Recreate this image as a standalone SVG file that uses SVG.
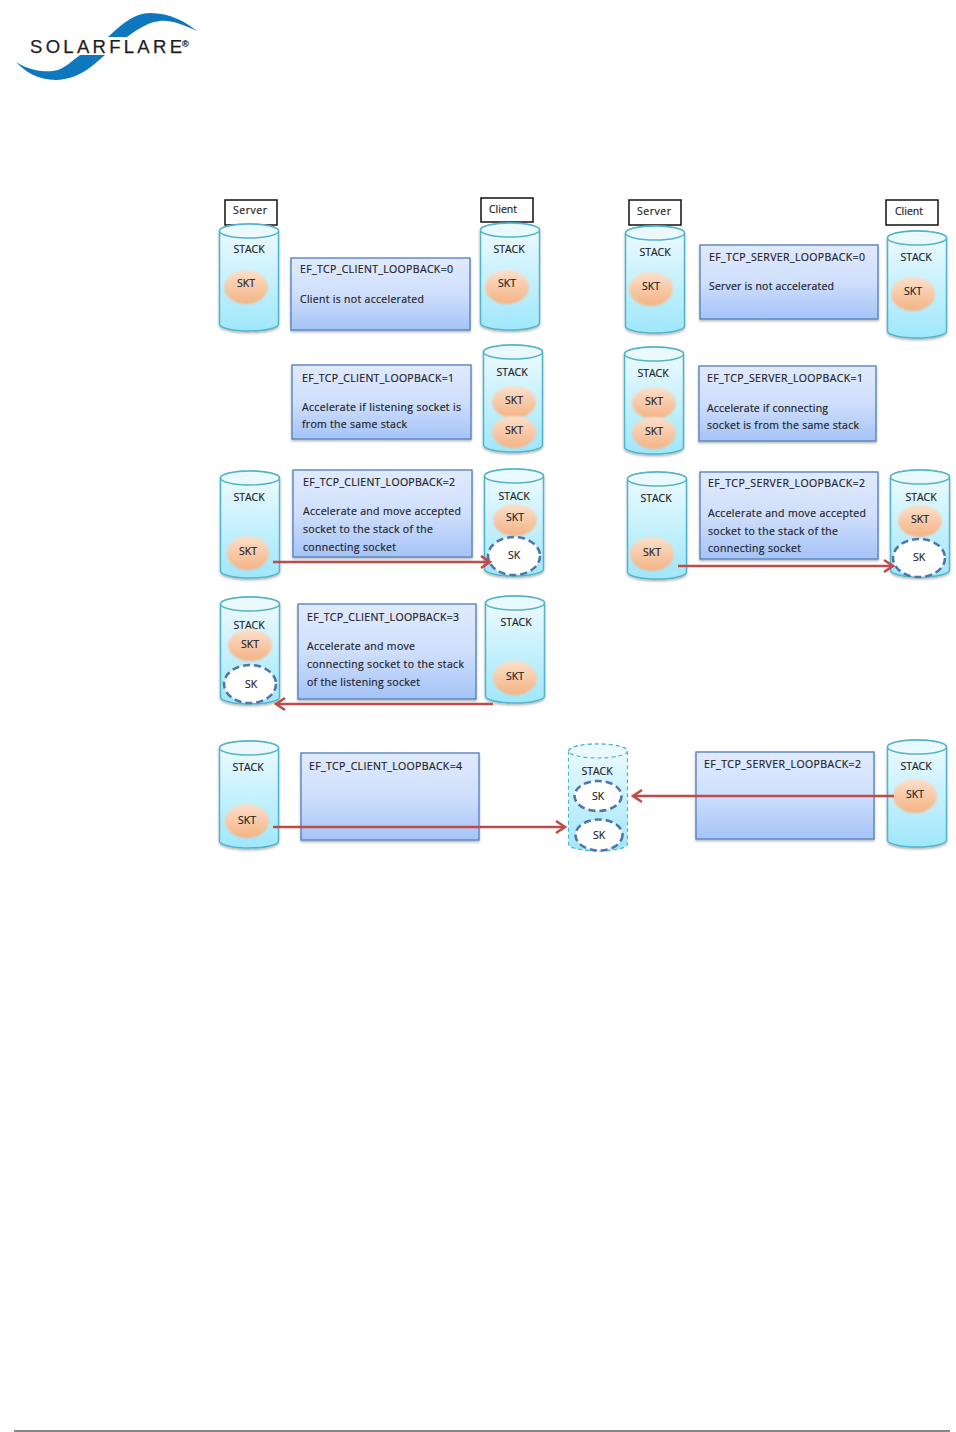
<svg xmlns="http://www.w3.org/2000/svg" width="956" height="1432" viewBox="0 0 956 1432">
<style>
text{font-family:"Open Sans","Liberation Sans",sans-serif;font-size:10.5px;fill:#1f2429;stroke:#1f2429;stroke-width:0.2;}
.c{text-anchor:middle}
.box{fill:url(#bg);stroke:#5b85bd;stroke-width:1.4;filter:url(#sh)}
.lab{fill:#fff;stroke:#111;stroke-width:1.5}
.skt{fill:url(#og);filter:url(#soft)}
.sk{fill:#fff;stroke:#4f75ad;stroke-width:2.6;stroke-dasharray:7 4}
.arr{fill:none;stroke:#bd4b48;stroke-width:2.6;marker-end:url(#ah)}
.logot{font-family:"Liberation Sans",sans-serif;fill:#1e1e22;stroke:#1e1e22;stroke-width:0.25}
</style>
<defs>
<linearGradient id="bg" x1="0" y1="0" x2="0" y2="1"><stop offset="0" stop-color="#e0eafd"/><stop offset="0.5" stop-color="#cfdffc"/><stop offset="1" stop-color="#a5c3f7"/></linearGradient>
<linearGradient id="cg" x1="0" y1="0" x2="0" y2="1"><stop offset="0" stop-color="#f0fbfe"/><stop offset="1" stop-color="#9fe7fb"/></linearGradient>
<linearGradient id="og" x1="0" y1="0" x2="0" y2="1"><stop offset="0" stop-color="#fbe0cb"/><stop offset="1" stop-color="#f5b384"/></linearGradient>
<filter id="sh" x="-5%" y="-5%" width="110%" height="115%"><feDropShadow dx="0" dy="1.5" stdDeviation="1" flood-color="#000" flood-opacity="0.3"/></filter>
<filter id="soft" x="-15%" y="-15%" width="130%" height="130%"><feGaussianBlur stdDeviation="0.8"/></filter>
<marker id="ah" markerUnits="userSpaceOnUse" markerWidth="16" markerHeight="16" refX="12" refY="8" orient="auto"><path d="M3 2L12 8L3 14" fill="none" stroke="#bd4b48" stroke-width="2.6"/></marker>
<g id="cyl">
<path d="M0.500 7a29.500 7 0 0 1 59 0v93a29.500 7 0 0 1-59 0z" fill="url(#cg)" stroke="#55b3c9" stroke-width="1.5" filter="url(#sh)"/>
<ellipse cx="30" cy="7" rx="29.500" ry="7" fill="#e9f9fd" stroke="#55b3c9" stroke-width="1.5"/>
</g>
<g id="cyld">
<path d="M0.500 7a29.500 7 0 0 1 59 0v93a29.500 7 0 0 1-59 0z" fill="url(#cg)" stroke="#55b3c9" stroke-width="1.2" stroke-dasharray="4 3"/>
<ellipse cx="30" cy="7" rx="29.500" ry="7" fill="#e9f9fd" stroke="#55b3c9" stroke-width="1.2" stroke-dasharray="4 3"/>
</g>
</defs>
<rect width="956" height="1432" fill="#fff"/>
<g id="logo">
<path d="M108 37C122 24 134 13 150 13C170 13 186 22 197 31C182 24 170 20 160 21C148 22 138 29 127 37Z" fill="#0f77bd"/>
<path d="M16 62C30 71 46 73 58 70C66 67 72 61 80 55L105 55C92 66 80 79 56 80C38 80 24 71 16 62Z" fill="#0f77bd"/>
<text class="logot" x="30" y="52.500" style="font-size:18.500px" textLength="152">SOLARFLARE</text>
<text class="logot" x="182" y="47" style="font-size:9px">®</text>
</g>
<g id="lab-server-1"><rect class="lab" x="225" y="200" width="52" height="25"/><text x="233" y="214" textLength="34">Server</text></g>
<g id="lab-client-1"><rect class="lab" x="481" y="198" width="52" height="24"/><text x="489" y="213" textLength="28">Client</text></g>
<g id="lab-server-2"><rect class="lab" x="629" y="200" width="52" height="25"/><text x="637" y="215" textLength="34">Server</text></g>
<g id="lab-client-2"><rect class="lab" x="886" y="200" width="52" height="25"/><text x="895" y="215" textLength="28">Client</text></g>

<g id="stack-c0-server"><use href="#cyl" x="219" y="224"/><text class="c" x="249" y="253">STACK</text><ellipse class="skt" cx="246" cy="287" rx="22" ry="17"/><text class="c" x="246" y="287">SKT</text></g>
<g id="stack-c0-client"><use href="#cyl" x="480" y="223"/><text class="c" x="509" y="253">STACK</text><ellipse class="skt" cx="507" cy="287" rx="22" ry="17"/><text class="c" x="507" y="287">SKT</text></g>
<g id="box-c0"><rect class="box" x="291" y="258" width="179" height="72"/><text x="300" y="273" textLength="153">EF_TCP_CLIENT_LOOPBACK=0</text><text x="300" y="303" textLength="124">Client is not accelerated</text></g>

<g id="stack-c1"><use href="#cyl" x="483" y="345"/><text class="c" x="512" y="376">STACK</text><ellipse class="skt" cx="514" cy="402" rx="22" ry="16"/><text class="c" x="514" y="404">SKT</text><ellipse class="skt" cx="514" cy="432" rx="22" ry="16"/><text class="c" x="514" y="434">SKT</text></g>
<g id="box-c1"><rect class="box" x="292" y="365" width="179" height="74"/><text x="302" y="382" textLength="152">EF_TCP_CLIENT_LOOPBACK=1</text><text x="302" y="411" textLength="159">Accelerate if listening socket is</text><text x="302" y="428" textLength="105">from the same stack</text></g>

<g id="stack-c2-a"><use href="#cyl" x="220" y="471"/><text class="c" x="249" y="501">STACK</text><ellipse class="skt" cx="248" cy="553" rx="21" ry="17"/><text class="c" x="248" y="555">SKT</text></g>
<g id="stack-c2-b"><use href="#cyl" x="484" y="469"/><text class="c" x="514" y="500">STACK</text><ellipse class="skt" cx="515" cy="520" rx="22" ry="16"/><text class="c" x="515" y="521">SKT</text><ellipse class="sk" cx="514" cy="556" rx="26" ry="19"/><text class="c" x="514" y="559">SK</text></g>
<g id="box-c2"><rect class="box" x="293" y="470" width="179" height="87"/><text x="303" y="486" textLength="152">EF_TCP_CLIENT_LOOPBACK=2</text><text x="303" y="515" textLength="158">Accelerate and move accepted</text><text x="303" y="533" textLength="130">socket to the stack of the</text><text x="303" y="551" textLength="93">connecting socket</text></g>

<g id="stack-c3-a"><use href="#cyl" x="220" y="597"/><text class="c" x="249" y="629">STACK</text><ellipse class="skt" cx="250" cy="645" rx="22" ry="16"/><text class="c" x="250" y="648">SKT</text><ellipse class="sk" cx="250" cy="684" rx="26" ry="19"/><text class="c" x="251" y="688">SK</text></g>
<g id="stack-c3-b"><use href="#cyl" x="485" y="596"/><text class="c" x="516" y="626">STACK</text><ellipse class="skt" cx="515" cy="678" rx="22" ry="17"/><text class="c" x="515" y="680">SKT</text></g>
<g id="box-c3"><rect class="box" x="298" y="604" width="178" height="95"/><text x="307" y="621" textLength="152">EF_TCP_CLIENT_LOOPBACK=3</text><text x="307" y="650" textLength="108">Accelerate and move</text><text x="307" y="668" textLength="157">connecting socket to the stack</text><text x="307" y="686" textLength="113">of the listening socket</text></g>

<g id="stack-c4"><use href="#cyl" x="219" y="741"/><text class="c" x="248" y="771">STACK</text><ellipse class="skt" cx="247" cy="821" rx="22" ry="17"/><text class="c" x="247" y="824">SKT</text></g>
<g id="box-c4"><rect class="box" x="301" y="753" width="178" height="87"/><text x="309" y="770" textLength="153">EF_TCP_CLIENT_LOOPBACK=4</text></g>
<g id="stack-shared"><use href="#cyld" x="568" y="744"/><text class="c" x="597" y="775">STACK</text><ellipse class="sk" cx="598" cy="796" rx="23.500" ry="15"/><text class="c" x="598" y="800">SK</text><ellipse class="sk" cx="599" cy="835" rx="23.500" ry="15.500"/><text class="c" x="599" y="839">SK</text></g>

<g id="stack-s0-server"><use href="#cyl" x="625" y="226"/><text class="c" x="655" y="256">STACK</text><ellipse class="skt" cx="651" cy="289" rx="22" ry="17"/><text class="c" x="651" y="290">SKT</text></g>
<g id="stack-s0-client"><use href="#cyl" x="887" y="231"/><text class="c" x="916" y="261">STACK</text><ellipse class="skt" cx="913" cy="294" rx="22" ry="17"/><text class="c" x="913" y="295">SKT</text></g>
<g id="box-s0"><rect class="box" x="700" y="245" width="178" height="74"/><text x="709" y="261" textLength="156">EF_TCP_SERVER_LOOPBACK=0</text><text x="709" y="290" textLength="125">Server is not accelerated</text></g>

<g id="stack-s1"><use href="#cyl" x="624" y="347"/><text class="c" x="653" y="377">STACK</text><ellipse class="skt" cx="654" cy="403" rx="22" ry="16"/><text class="c" x="654" y="405">SKT</text><ellipse class="skt" cx="654" cy="433" rx="22" ry="16"/><text class="c" x="654" y="435">SKT</text></g>
<g id="box-s1"><rect class="box" x="699" y="366" width="177" height="75"/><text x="707" y="382" textLength="156">EF_TCP_SERVER_LOOPBACK=1</text><text x="707" y="412" textLength="121">Accelerate if connecting</text><text x="707" y="429" textLength="152">socket is from the same stack</text></g>

<g id="stack-s2-a"><use href="#cyl" x="627" y="472"/><text class="c" x="656" y="502">STACK</text><ellipse class="skt" cx="652" cy="554" rx="22" ry="17"/><text class="c" x="652" y="556">SKT</text></g>
<g id="stack-s2-b"><use href="#cyl" x="890" y="470"/><text class="c" x="921" y="501">STACK</text><ellipse class="skt" cx="920" cy="521" rx="22" ry="16"/><text class="c" x="920" y="523">SKT</text><ellipse class="sk" cx="919" cy="558" rx="26" ry="19"/><text class="c" x="919" y="561">SK</text></g>
<g id="box-s2"><rect class="box" x="700" y="472" width="178" height="87"/><text x="708" y="487" textLength="157">EF_TCP_SERVER_LOOPBACK=2</text><text x="708" y="517" textLength="158">Accelerate and move accepted</text><text x="708" y="535" textLength="130">socket to the stack of the</text><text x="708" y="552" textLength="93">connecting socket</text></g>

<g id="box-s4"><rect class="box" x="696" y="752" width="178" height="87"/><text x="704" y="768" textLength="157">EF_TCP_SERVER_LOOPBACK=2</text></g>
<g id="stack-s4"><use href="#cyl" x="887" y="740"/><text class="c" x="916" y="770">STACK</text><ellipse class="skt" cx="915" cy="796" rx="22" ry="17"/><text class="c" x="915" y="798">SKT</text></g>

<g id="connectors">
<line class="arr" x1="273" y1="562" x2="490" y2="562"/>
<line class="arr" x1="678" y1="566" x2="893" y2="566"/>
<line class="arr" x1="493" y1="704" x2="276" y2="704"/>
<line class="arr" x1="273" y1="827" x2="565" y2="827"/>
<line class="arr" x1="894" y1="796" x2="633" y2="796"/>
</g>
<line id="footer-rule" x1="14" y1="1431" x2="950" y2="1431" stroke="#111" stroke-width="1.2"/>
</svg>
